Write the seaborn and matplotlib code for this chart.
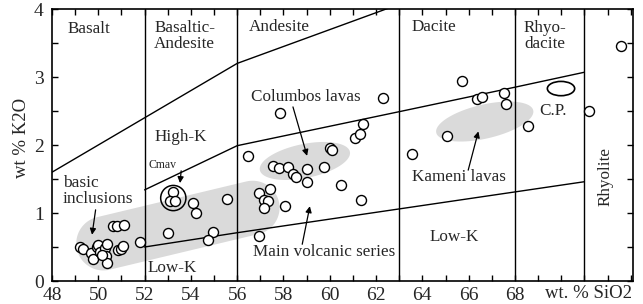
import numpy as np
import pandas as pd
import matplotlib
matplotlib.use("Agg")
import matplotlib.pyplot as plt
from matplotlib.patches import Ellipse, Polygon
from matplotlib.ticker import FixedLocator
import seaborn as sns

# --- data ---------------------------------------------------------------
sio2 = [49.21, 49.35, 49.67, 49.76, 49.93, 50.00, 50.07, 50.29, 50.33, 50.36,
        50.39, 50.65, 50.80, 51.11, 50.86, 50.97, 51.05, 51.80, 50.15,
        53.02, 53.24, 53.10, 53.31, 54.10, 54.20, 54.97, 54.75, 55.55,
        56.48, 56.95, 57.42, 57.17, 57.34, 57.17, 56.95, 58.07,
        57.56, 57.80, 58.18, 58.39, 58.54, 59.00, 59.03, 59.75, 57.85,
        60.00, 60.10, 60.47, 61.35, 61.10, 61.30, 61.45, 62.28,
        63.54, 65.05, 65.70, 66.37, 66.59, 67.53, 67.61, 68.55, 71.20, 72.58]
k2o = [0.50, 0.47, 0.41, 0.33, 0.50, 0.53, 0.43, 0.48, 0.37, 0.27,
       0.54, 0.81, 0.81, 0.83, 0.46, 0.47, 0.51, 0.58, 0.38,
       0.71, 1.31, 1.18, 1.18, 1.14, 1.00, 0.72, 0.60, 1.21,
       1.84, 1.29, 1.36, 1.19, 1.18, 1.08, 0.66, 1.10,
       1.69, 1.66, 1.67, 1.58, 1.53, 1.65, 1.46, 1.67, 2.47,
       1.96, 1.92, 1.41, 1.19, 2.11, 2.16, 2.31, 2.69,
       1.87, 2.13, 2.94, 2.68, 2.70, 2.76, 2.60, 2.28, 2.50, 3.46]

cmav_center = (53.24, 1.22)
cp_center = (69.99, 2.83)

# classification boundaries
field_x = [52, 56, 63, 68, 71]
shosh_x = [48, 52, 56, 63]
shosh_y = [1.60, 2.40, 3.20, 4.07]
highk_x = [52, 56, 63, 68, 71]
highk_y = [1.34, 1.99, 2.49, 2.85, 3.07]
lowk_x = [52, 56, 63, 68, 71]
lowk_y = [0.50, 0.71, 1.06, 1.31, 1.46]

# shaded fields: two tips, half thickness (px)
field_tip_a = [(49.08, 0.46), (56.98, 1.63), (64.60, 2.18)]
field_tip_b = [(57.80, 1.17), (60.87, 1.90), (68.79, 2.51)]
field_half = [27, 17, 17]
field_stadium = [True, False, False]

xticks = list(range(48, 74))
xlabels = [48, 50, 52, 54, 56, 58, 60, 62, 64, 66, 68]
yticks = [0, 0.5, 1, 1.5, 2, 2.5, 3, 3.5, 4]

df = pd.DataFrame({"sio2": sio2, "k2o": k2o})

sns.set_style("ticks", {"xtick.direction": "in", "ytick.direction": "in"})
plt.rcParams["font.family"] = ["Liberation Serif", "DejaVu Serif"]

fig = plt.figure(figsize=(6.43, 3.04), dpi=100)
ax = fig.add_axes([52 / 643, 23 / 304, 581 / 643, 272 / 304])
ax.set_xlim(48, 73.1)
ax.set_ylim(0, 4)


def add_field(a, b, hw, stadium):
    pa, pb = ax.transData.transform([a, b])
    c = (pa + pb) / 2
    d = pb - pa
    half = np.hypot(*d) / 2
    u = d / (2 * half)
    v = np.array([-u[1], u[0]])
    if stadium:
        t = np.linspace(-np.pi / 2, np.pi / 2, 40)
        right = np.column_stack([half - hw + hw * np.cos(t), hw * np.sin(t)])
        left = np.column_stack([-(half - hw) - hw * np.cos(t), -hw * np.sin(t)])
        pts = np.vstack([right, left])
    else:
        t = np.linspace(0, 2 * np.pi, 90)
        pts = np.column_stack([half * np.cos(t), hw * np.sin(t)])
    disp = c + pts[:, :1] * u + pts[:, 1:] * v
    data = ax.transData.inverted().transform(disp)
    ax.add_patch(Polygon(data, closed=True, fc="#dadada", ec="none", zorder=1))


for a, b, hw, st in zip(field_tip_a, field_tip_b, field_half, field_stadium):
    add_field(a, b, hw, st)

lw = 1.0
for x in field_x:
    ax.axvline(x, color="black", lw=lw, zorder=2)
ax.plot(shosh_x, shosh_y, color="black", lw=lw, zorder=2)
ax.plot(highk_x, highk_y, color="black", lw=lw, zorder=2)
ax.plot(lowk_x, lowk_y, color="black", lw=lw, zorder=2)

sns.scatterplot(data=df, x="sio2", y="k2o", s=52, color="white",
                edgecolor="black", linewidth=1.0, zorder=3, legend=False, ax=ax)
ax.scatter([cmav_center[0]], [cmav_center[1]], s=330, facecolor="none",
           edgecolor="black", linewidth=1.1, zorder=3)
ax.add_patch(Ellipse(cp_center, 1.18, 0.21, fc="none", ec="black", lw=1.2, zorder=3))

# field names
fs = 12.3
ax.text(48.69, 3.71, "Basalt", fontsize=fs, va="center")
ax.text(52.41, 3.60, "Basaltic-\nAndesite", fontsize=fs, va="center", linespacing=1.05)
ax.text(56.51, 3.74, "Andesite", fontsize=fs, va="center")
ax.text(63.55, 3.74, "Dacite", fontsize=fs, va="center")
ax.text(68.39, 3.60, "Rhyo-\ndacite", fontsize=fs, va="center", linespacing=1.05)
ax.text(71.93, 1.54, "Rhyolite", fontsize=fs, va="center", ha="center", rotation=90)
ax.text(52.41, 2.12, "High-K", fontsize=fs, va="center")
ax.text(52.15, 0.19, "Low-K", fontsize=fs, va="center")
ax.text(64.29, 0.65, "Low-K", fontsize=fs, va="center")
ax.text(52.15, 1.71, "Cmav", fontsize=8.5, va="center")
ax.text(69.04, 2.50, "C.P.", fontsize=fs, va="center")

arrow = dict(arrowstyle="-|>", color="black", lw=0.9, mutation_scale=9,
             shrinkA=0, shrinkB=0)
ax.annotate("basic\ninclusions", xy=(49.73, 0.68), xytext=(48.48, 1.33),
            fontsize=12.5, va="center", linespacing=1.0, arrowprops=arrow)
ax.annotate("", xy=(53.53, 1.44), xytext=(53.58, 1.62), arrowprops=arrow)
ax.text(56.6, 2.71, "Columbos lavas", fontsize=fs, va="center")
ax.annotate("", xy=(59.02, 1.84), xytext=(58.41, 2.56), arrowprops=arrow)
ax.text(56.68, 0.43, "Main volcanic series", fontsize=fs, va="center")
ax.annotate("", xy=(59.14, 1.10), xytext=(58.81, 0.54), arrowprops=arrow)
ax.text(63.55, 1.53, "Kameni lavas", fontsize=fs, va="center")
ax.annotate("", xy=(66.42, 2.20), xytext=(65.98, 1.63), arrowprops=arrow)

# ticks on all sides, labels only on even x / integer y
ax.xaxis.set_major_locator(FixedLocator(xticks))
ax.set_xticklabels([str(t) if t in xlabels else "" for t in xticks])
ax.yaxis.set_major_locator(FixedLocator(yticks))
ax.set_yticklabels([str(int(t)) if t == int(t) else "" for t in yticks])
ax.tick_params(axis="both", which="both", direction="in", length=4, width=1.0,
               top=True, right=True, labelsize=14, color="black")
ax.tick_params(axis="x", pad=4)
ax.tick_params(axis="y", pad=6)
for sp in ax.spines.values():
    sp.set_visible(True)
    sp.set_linewidth(1.2)
    sp.set_color("black")
ax.set_xlabel("")
ax.set_ylabel("")

fig.text(632 / 643, 10 / 304, "wt. % SiO2", fontsize=13.5, ha="right", va="center")
fig.text(21 / 643, 1 - 138 / 304, "wt % K2O", fontsize=13.5, ha="center",
         va="center", rotation=90)

fig.savefig("out.png", dpi=100)
